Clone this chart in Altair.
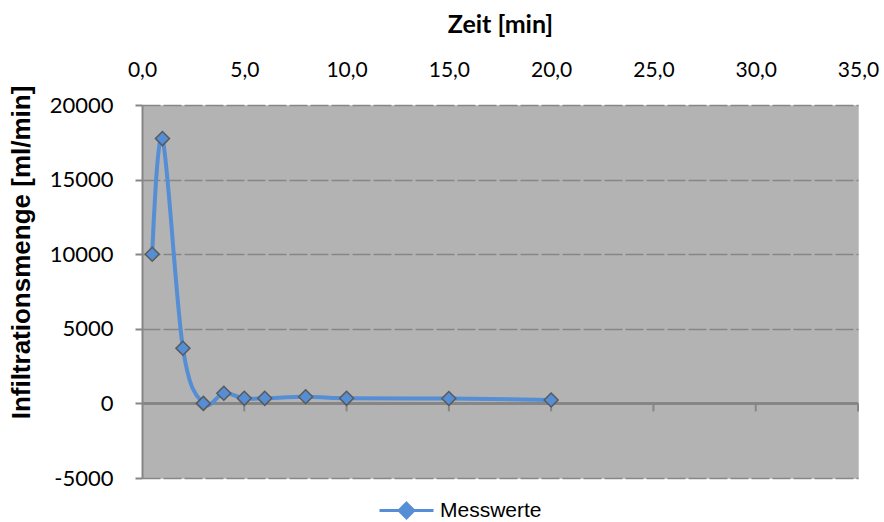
import altair as alt
import pandas as pd

# data
zeit = [0.5, 1, 2, 3, 4, 5, 6, 8, 10, 15, 20]
menge = [10000, 17750, 3700, 0, 680, 340, 340, 450, 340, 330, 230]
serie = ["Messwerte"] * len(zeit)
x_ticks = [5, 10, 15, 20, 25, 30, 35]
x_label_values = [0, 5, 10, 15, 20, 25, 30, 35]
y_values = [-5000, 0, 5000, 10000, 15000, 20000]

df = pd.DataFrame({"t": zeit, "v": menge, "series": serie})
ticks_df = pd.DataFrame({"t": x_ticks})

W, H = 716, 373
BLUE = "#558ED5"
GRID = "#868686"

xscale = alt.Scale(domain=[0, 35], nice=False, zero=False)
yscale = alt.Scale(domain=[-5000, 20000], nice=False)

x_axis = alt.Axis(
    orient="top", values=x_label_values, domain=False, ticks=False, grid=False,
    labelFlush=False,
    labelExpr="replace(format(datum.value, '.1f'), '.', ',')",
    labelFont="Lato", labelFontSize=21, labelColor="#000000", labelPadding=25,
    title="Zeit [min]", titleFont="Lato", titleFontSize=25, titleFontWeight="bold",
    titleColor="#000000", titlePadding=22,
)
y_axis = alt.Axis(
    values=y_values, domain=True, domainColor=GRID, domainWidth=2,
    labelExpr="'' + datum.value", labelFlush=False,
    ticks=True, tickSize=7, tickColor=GRID, tickWidth=2,
    grid=True, gridColor=GRID, gridDash=[18, 3], gridWidth=1.5,
    labelFont="Lato", labelFontSize=22, labelColor="#000000", labelPadding=22,
    title="Infiltrationsmenge [ml/min]", titleFont="Arial", titleFontSize=26,
    titleFontWeight="bold", titleColor="#000000", titlePadding=15, titleY=147,
)

base = alt.Chart(df)

line = base.mark_line(interpolate="cardinal", color=BLUE, strokeWidth=4).encode(
    x=alt.X("t:Q", scale=xscale, axis=x_axis),
    y=alt.Y("v:Q", scale=yscale, axis=y_axis),
)

zero_rule = alt.Chart(df).mark_rule(color=GRID, strokeWidth=2).encode(
    y=alt.Y(datum=0, scale=yscale)
)

tick_marks = alt.Chart(ticks_df).mark_rule(color=GRID, strokeWidth=2, y2Offset=8).encode(
    x=alt.X("t:Q", scale=xscale),
    y=alt.Y(datum=0, scale=yscale),
    y2=alt.Y2(datum=0),
)

legend_path = "M-1,0L-0.27,0M0.27,0L1,0M0,-0.27L0.27,0L0,0.27L-0.27,0Z"

points = base.mark_point(
    shape="diamond", filled=True, size=196, stroke="#595959", strokeWidth=1.5, opacity=1
).encode(
    x=alt.X("t:Q", scale=xscale),
    y=alt.Y("v:Q", scale=yscale),
    fill=alt.Fill(
        "series:N",
        scale=alt.Scale(range=[BLUE]),
        legend=alt.Legend(
            title=None, orient="none", legendX=236, legendY=377,
            symbolType=legend_path, symbolSize=2916,
            symbolStrokeColor=BLUE, symbolStrokeWidth=3, symbolFillColor=BLUE,
            labelFont="Arial", labelFontSize=21, labelColor="#000000", labelOffset=5,
        ),
    ),
)

chart = (
    alt.layer(zero_rule, tick_marks, line, points)
    .properties(
        width=W, height=H,
        autosize=alt.AutoSizeParams(type="none"),
        padding={"left": 142, "top": 105, "right": 26, "bottom": 44},
        background="#ffffff",
    )
    .configure_view(fill="#B3B3B3", stroke="#c8c8c8", strokeWidth=1)
)

chart.save("out.html", embed_options={"renderer": "svg", "actions": False})
